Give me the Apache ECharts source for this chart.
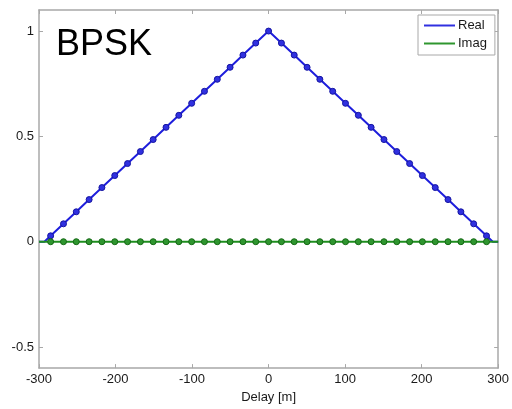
<!DOCTYPE html>
<html><head><meta charset="utf-8">
<script src="https://cdn.jsdelivr.net/npm/echarts@6/dist/echarts.min.js"></script>
<style>html,body{margin:0;padding:0;background:#fff}#c{width:512px;height:409px}</style>
</head><body><div id="c"></div>
<script>
// Delay samples [m] (marker positions)
const delays = [-284.8,-268.0,-251.3,-234.5,-217.8,-201.0,-184.3,-167.5,-150.8,-134.0,-117.3,-100.5,-83.8,-67.0,-50.3,-33.5,-16.8,0,
  16.8,33.5,50.3,67.0,83.8,100.5,117.3,134.0,150.8,167.5,184.3,201.0,217.8,234.5,251.3,268.0,284.8];
const realVals = [0.028,0.085,0.142,0.200,0.257,0.314,0.371,0.428,0.485,0.543,0.600,0.657,0.714,0.771,0.828,0.886,0.943,1.000,
  0.943,0.886,0.828,0.771,0.714,0.657,0.600,0.543,0.485,0.428,0.371,0.314,0.257,0.200,0.142,0.085,0.028];
const imagVals = [0,0,0,0,0,0,0,0,0,0,0,0,0,0,0,0,0,0,0,0,0,0,0,0,0,0,0,0,0,0,0,0,0,0,0];
// line end points (no marker)
const leftEnd = [[-300,0],[-293,0]];
const rightEnd = [[293,0],[300,0]];
const xTicks = [-300,-200,-100,0,100,200,300];
const yTicks = [-0.5,0,0.5,1];
const seriesNames = ['Real','Imag'];

function build(vals){
  const d = [];
  leftEnd.forEach(p=>d.push({value:p, symbol:'none'}));
  delays.forEach((x,i)=>d.push({value:[x, vals[i]]}));
  rightEnd.forEach(p=>d.push({value:p, symbol:'none'}));
  return d;
}
const axisCol = '#a8a8a8';
const font = 'Liberation Sans, Arial';
const lblStyle = {color:'#1a1a1a', fontFamily:font, fontSize:13};
const chart = echarts.init(document.getElementById('c'));
const axisLineCfg = {show:true, onZero:false, lineStyle:{color:axisCol, width:1.5}};
const tickCfg = {show:true, inside:true, length:4, lineStyle:{color:axisCol}};
chart.setOption({
  animation:false,
  grid:{left:39, right:13, top:10, bottom:37},
  xAxis:[{type:'value', min:-300, max:300, interval:100,
     axisLine:axisLineCfg, axisTick:tickCfg,
     axisLabel:{...lblStyle, margin:5, customValues:xTicks}, splitLine:{show:false},
     name:'Delay [m]', nameLocation:'middle', nameGap:20, nameTextStyle:{...lblStyle, fontSize:13}},
    {type:'value', position:'top', min:-300, max:300, interval:100,
     axisLine:axisLineCfg, axisTick:tickCfg,
     axisLabel:{show:false}, splitLine:{show:false}}],
  yAxis:[{type:'value', min:-0.6, max:1.1,
     axisLine:axisLineCfg, axisTick:{...tickCfg, customValues: yTicks},
     axisLabel:{...lblStyle, margin:5, customValues: yTicks}, splitLine:{show:false}},
    {type:'value', position:'right', min:-0.6, max:1.1,
     axisLine:axisLineCfg, axisTick:{...tickCfg, customValues: yTicks},
     axisLabel:{show:false}, splitLine:{show:false}}],
  legend:{orient:'vertical', left:418, top:15, data:seriesNames, icon:'rect', itemWidth:31, itemHeight:2, itemGap:5,
    padding:[4,8,5,6], borderColor:'#a8a8a8', borderWidth:1, backgroundColor:'#fff',
    itemStyle:{borderWidth:0},
    textStyle:{color:'#1a1a1a', fontFamily:font, fontSize:13, lineHeight:13, padding:[0,0,0,-2]}},
  graphic:[{type:'text', left:56, top:27, style:{text:'BPSK', font:'36px "Liberation Sans", Arial', fill:'#000'}}],
  series:[
    {name:'Real', type:'line', data:build(realVals), symbol:'circle', symbolSize:6, showAllSymbol:true,
      lineStyle:{color:'#1e1edc', width:2}, itemStyle:{color:'#3030e0', borderColor:'#1414a0', borderWidth:1}, z:3},
    {name:'Imag', type:'line', data:build(imagVals), symbol:'circle', symbolSize:6, showAllSymbol:true,
      lineStyle:{color:'#1f8f1f', width:2}, itemStyle:{color:'#2f962f', borderColor:'#136813', borderWidth:1}, z:4}
  ]
});
</script></body></html>
